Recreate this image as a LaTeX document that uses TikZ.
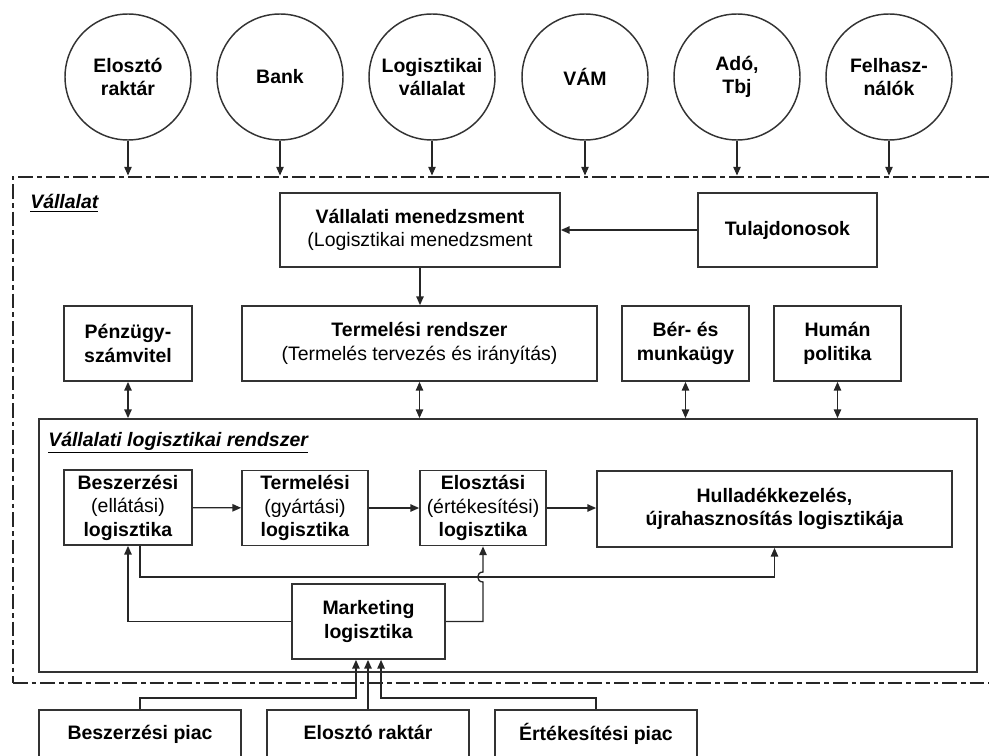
\documentclass[tikz,border=0pt]{standalone}
\usepackage{fontspec}
\setmainfont{Liberation Sans}
\usetikzlibrary{arrows.meta}

\newcommand\betu{\fontsize{14.6}{17.6}\selectfont}

\tikzset{
  kor/.style={circle,draw=black!80,line width=1.1pt,minimum size=94.5pt,inner sep=0pt,align=center,font=\betu\bfseries},
  doboz/.style={rectangle,draw=black!80,line width=1.3pt,inner sep=0pt,align=center,font=\betu},
  keret/.style={rectangle,draw=black!85,line width=2.2pt,dash pattern=on 11pt off 3pt on 3.5pt off 3pt,inner sep=0pt},
  nyil/.style={-{Triangle[length=6.5pt,width=5.5pt]},line width=1pt,draw=black!85},
  kettos/.style={{Triangle[length=6.5pt,width=5.5pt]}-{Triangle[length=6.5pt,width=5.5pt]},line width=1pt,draw=black!85},
  cim/.style={anchor=west,inner sep=0pt,font=\betu\bfseries\itshape},
}

\begin{document}
\begin{tikzpicture}[x=0.75pt,y=-0.75pt]
\useasboundingbox (0,0) rectangle (989,756);
\clip (0,0) rectangle (989,756);

% kulso szereplok
\node[kor] (eloszto) at (128,77) {Elosztó\\raktár};
\node[kor] (bank) at (280,77) {Bank};
\node[kor] (logv) at (432,77) {Logisztikai\\vállalat};
\node[kor] (vam) at (585,77) {VÁM};
\node[kor] (ado) at (737,77) {Adó,\\Tbj};
\node[kor] (felh) at (889,77) {Felhasz-\\nálók};

% vallalat keret
\node[keret,minimum width=740.25pt,minimum height=379.5pt] (vallalat) at (506.5,430) {};
\node[cim] (lvall) at (30,203) {\underline{Vállalat}};

\node[doboz,minimum width=210pt,minimum height=55.5pt] (vm) at (420,230)
  {\textbf{Vállalati menedzsment}\\(Logisztikai menedzsment};
\node[doboz,minimum width=134.25pt,minimum height=55.5pt] (tul) at (787.5,230) {\textbf{Tulajdonosok}};

\node[doboz,minimum width=96pt,minimum height=56.25pt] (penz) at (128,343.5) {\textbf{Pénzügy-}\\\textbf{számvitel}};
\node[doboz,minimum width=266.25pt,minimum height=56.25pt] (trr) at (419.5,343.5)
  {\textbf{Termelési rendszer}\\(Termelés tervezés és irányítás)};
\node[doboz,minimum width=95.25pt,minimum height=56.25pt] (ber) at (685.5,343.5) {\textbf{Bér- és}\\\textbf{munkaügy}};
\node[doboz,minimum width=95.25pt,minimum height=56.25pt] (human) at (837.5,343.5) {\textbf{Humán}\\\textbf{politika}};

% logisztikai rendszer
\node[doboz,minimum width=703.5pt,minimum height=189.75pt] (vlr) at (508,545.5) {};
\node[cim] (lvlr) at (48,443) {\underline{Vállalati logisztikai rendszer}};

\node[doboz,minimum width=96pt,minimum height=56.25pt] (besz) at (128,507.5)
  {\textbf{Beszerzési}\\(ellátási)\\\textbf{logisztika}};
\node[doboz,minimum width=94.5pt,minimum height=56.25pt] (terml) at (305,508)
  {\textbf{Termelési}\\(gyártási)\\\textbf{logisztika}};
\node[doboz,minimum width=94.5pt,minimum height=56.25pt] (elosz) at (483,508)
  {\textbf{Elosztási}\\(értékesítési)\\\textbf{logisztika}};
\node[doboz,minimum width=266.25pt,minimum height=57pt] (hull) at (774.5,509)
  {\textbf{Hulladékkezelés,}\\\textbf{újrahasznosítás logisztikája}};
\node[doboz,minimum width=114.75pt,minimum height=56.25pt] (mkt) at (368.5,621.5)
  {\textbf{Marketing}\\\textbf{logisztika}};

% piacok
\node[doboz,minimum width=151.5pt,minimum height=37.5pt] (bpiac) at (140,735) {\strut\textbf{Beszerzési piac}};
\node[doboz,minimum width=151.5pt,minimum height=37.5pt] (eraktar) at (368,735) {\strut\textbf{Elosztó raktár}};
\node[doboz,minimum width=151.5pt,minimum height=37.5pt] (epiac) at (596,735) {\strut\textbf{Értékesítési piac}};

% nyilak
\foreach \k in {eloszto,bank,logv,vam,ado,felh}
  \draw[nyil] (\k) -- (\k |- vallalat.north);
\draw[nyil] (tul) -- (vm);
\draw[nyil] (vm) -- (vm |- trr.north);
\foreach \k in {penz,trr,ber,human}
  \draw[kettos] (\k) -- (\k |- vlr.north);

\draw[nyil] (besz) -- (terml);
\draw[nyil] (terml) -- (elosz);
\draw[nyil] (elosz) -- (elosz -| hull.west);
\draw[nyil] ([xshift=9pt]besz.south) -- ([xshift=9pt]besz.south |- 0,577) -| (hull.south);
\draw[nyil] (mkt.west) -| (besz.south);
\draw[nyil] (mkt.east) -- (elosz.south |- mkt.east) -- (elosz.south |- 0,582)
  .. controls +(-7,0) and +(-7,0) .. (elosz.south |- 0,572) -- (elosz.south);

\draw[nyil] (bpiac) |- ([xshift=-9.4pt]mkt.south |- 0,698) -- ([xshift=-9.4pt]mkt.south);
\draw[nyil] (eraktar) -- (eraktar |- mkt.south);
\draw[nyil] (epiac) |- ([xshift=9.4pt]mkt.south |- 0,698) -- ([xshift=9.4pt]mkt.south);
\end{tikzpicture}
\end{document}
